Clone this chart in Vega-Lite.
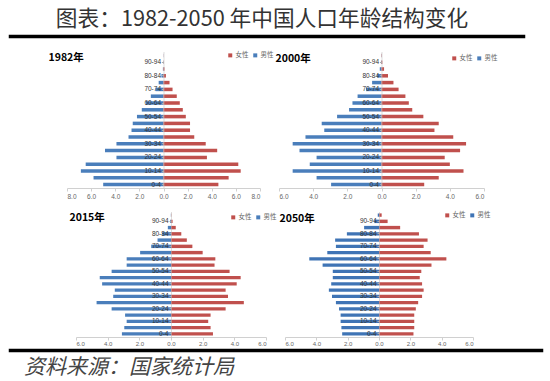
{
"$schema": "https://vega.github.io/schema/vega-lite/v6.json",
"padding": {"left": 8, "top": 8, "right": 0, "bottom": 0},
"background": "white",
"config": {"view": {"stroke": null}, "font": "Noto Sans CJK SC"},
"title": {"text": "图表：1982-2050 年中国人口年龄结构变化", "fontSize": 21.7, "font": "Noto Sans CJK SC", "fontWeight": "normal", "color": "#333", "anchor": "middle", "dx": -14, "offset": -1},
"datasets": {
"pop": [
{"year":1982,"age":"0-4","sex":"男性","v":-5.0},{"year":1982,"age":"0-4","sex":"女性","v":4.55},
{"year":1982,"age":"5-9","sex":"男性","v":-5.8},{"year":1982,"age":"5-9","sex":"女性","v":5.4},
{"year":1982,"age":"10-14","sex":"男性","v":-6.85},{"year":1982,"age":"10-14","sex":"女性","v":6.4},
{"year":1982,"age":"15-19","sex":"男性","v":-6.45},{"year":1982,"age":"15-19","sex":"女性","v":6.2},
{"year":1982,"age":"20-24","sex":"男性","v":-3.9},{"year":1982,"age":"20-24","sex":"女性","v":3.6},
{"year":1982,"age":"25-29","sex":"男性","v":-4.85},{"year":1982,"age":"25-29","sex":"女性","v":4.45},
{"year":1982,"age":"30-34","sex":"男性","v":-3.9},{"year":1982,"age":"30-34","sex":"女性","v":3.5},
{"year":1982,"age":"35-39","sex":"男性","v":-2.9},{"year":1982,"age":"35-39","sex":"女性","v":2.55},
{"year":1982,"age":"40-44","sex":"男性","v":-2.65},{"year":1982,"age":"40-44","sex":"女性","v":2.2},
{"year":1982,"age":"45-49","sex":"男性","v":-2.55},{"year":1982,"age":"45-49","sex":"女性","v":2.2},
{"year":1982,"age":"50-54","sex":"男性","v":-2.2},{"year":1982,"age":"50-54","sex":"女性","v":1.85},
{"year":1982,"age":"55-59","sex":"男性","v":-1.8},{"year":1982,"age":"55-59","sex":"女性","v":1.6},
{"year":1982,"age":"60-64","sex":"男性","v":-1.45},{"year":1982,"age":"60-64","sex":"女性","v":1.35},
{"year":1982,"age":"65-69","sex":"男性","v":-1.05},{"year":1982,"age":"65-69","sex":"女性","v":1.1},
{"year":1982,"age":"70-74","sex":"男性","v":-0.65},{"year":1982,"age":"70-74","sex":"女性","v":0.75},
{"year":1982,"age":"75-79","sex":"男性","v":-0.4},{"year":1982,"age":"75-79","sex":"女性","v":0.5},
{"year":1982,"age":"80-84","sex":"男性","v":-0.17},{"year":1982,"age":"80-84","sex":"女性","v":0.2},
{"year":1982,"age":"85-89","sex":"男性","v":-0.05},{"year":1982,"age":"85-89","sex":"女性","v":0.08},
{"year":1982,"age":"90-94","sex":"男性","v":-0.02},{"year":1982,"age":"90-94","sex":"女性","v":0.02},
{"year":1982,"age":"95+","sex":"男性","v":-0.01},{"year":1982,"age":"95+","sex":"女性","v":0.01},

{"year":2000,"age":"0-4","sex":"男性","v":-2.95},{"year":2000,"age":"0-4","sex":"女性","v":2.5},
{"year":2000,"age":"5-9","sex":"男性","v":-3.8},{"year":2000,"age":"5-9","sex":"女性","v":3.35},
{"year":2000,"age":"10-14","sex":"男性","v":-5.2},{"year":2000,"age":"10-14","sex":"女性","v":4.8},
{"year":2000,"age":"15-19","sex":"男性","v":-4.2},{"year":2000,"age":"15-19","sex":"女性","v":4.0},
{"year":2000,"age":"20-24","sex":"男性","v":-3.8},{"year":2000,"age":"20-24","sex":"女性","v":3.7},
{"year":2000,"age":"25-29","sex":"男性","v":-4.8},{"year":2000,"age":"25-29","sex":"女性","v":4.6},
{"year":2000,"age":"30-34","sex":"男性","v":-5.2},{"year":2000,"age":"30-34","sex":"女性","v":4.95},
{"year":2000,"age":"35-39","sex":"男性","v":-4.45},{"year":2000,"age":"35-39","sex":"女性","v":4.2},
{"year":2000,"age":"40-44","sex":"男性","v":-3.35},{"year":2000,"age":"40-44","sex":"女性","v":3.1},
{"year":2000,"age":"45-49","sex":"男性","v":-3.5},{"year":2000,"age":"45-49","sex":"女性","v":3.35},
{"year":2000,"age":"50-54","sex":"男性","v":-2.6},{"year":2000,"age":"50-54","sex":"女性","v":2.45},
{"year":2000,"age":"55-59","sex":"男性","v":-1.9},{"year":2000,"age":"55-59","sex":"女性","v":1.8},
{"year":2000,"age":"60-64","sex":"男性","v":-1.7},{"year":2000,"age":"60-64","sex":"女性","v":1.6},
{"year":2000,"age":"65-69","sex":"男性","v":-1.4},{"year":2000,"age":"65-69","sex":"女性","v":1.4},
{"year":2000,"age":"70-74","sex":"男性","v":-0.9},{"year":2000,"age":"70-74","sex":"女性","v":1.0},
{"year":2000,"age":"75-79","sex":"男性","v":-0.55},{"year":2000,"age":"75-79","sex":"女性","v":0.7},
{"year":2000,"age":"80-84","sex":"男性","v":-0.25},{"year":2000,"age":"80-84","sex":"女性","v":0.38},
{"year":2000,"age":"85-89","sex":"男性","v":-0.1},{"year":2000,"age":"85-89","sex":"女性","v":0.15},
{"year":2000,"age":"90-94","sex":"男性","v":-0.03},{"year":2000,"age":"90-94","sex":"女性","v":0.05},
{"year":2000,"age":"95+","sex":"男性","v":-0.01},{"year":2000,"age":"95+","sex":"女性","v":0.02},

{"year":2015,"age":"0-4","sex":"男性","v":-3.1},{"year":2015,"age":"0-4","sex":"女性","v":2.65},
{"year":2015,"age":"5-9","sex":"男性","v":-2.95},{"year":2015,"age":"5-9","sex":"女性","v":2.5},
{"year":2015,"age":"10-14","sex":"男性","v":-2.8},{"year":2015,"age":"10-14","sex":"女性","v":2.35},
{"year":2015,"age":"15-19","sex":"男性","v":-2.9},{"year":2015,"age":"15-19","sex":"女性","v":2.5},
{"year":2015,"age":"20-24","sex":"男性","v":-3.75},{"year":2015,"age":"20-24","sex":"女性","v":3.45},
{"year":2015,"age":"25-29","sex":"男性","v":-4.7},{"year":2015,"age":"25-29","sex":"女性","v":4.6},
{"year":2015,"age":"30-34","sex":"男性","v":-3.65},{"year":2015,"age":"30-34","sex":"女性","v":3.6},
{"year":2015,"age":"35-39","sex":"男性","v":-3.55},{"year":2015,"age":"35-39","sex":"女性","v":3.45},
{"year":2015,"age":"40-44","sex":"男性","v":-4.35},{"year":2015,"age":"40-44","sex":"女性","v":4.15},
{"year":2015,"age":"45-49","sex":"男性","v":-4.5},{"year":2015,"age":"45-49","sex":"女性","v":4.4},
{"year":2015,"age":"50-54","sex":"男性","v":-3.75},{"year":2015,"age":"50-54","sex":"女性","v":3.7},
{"year":2015,"age":"55-59","sex":"男性","v":-2.8},{"year":2015,"age":"55-59","sex":"女性","v":2.75},
{"year":2015,"age":"60-64","sex":"男性","v":-2.8},{"year":2015,"age":"60-64","sex":"女性","v":2.8},
{"year":2015,"age":"65-69","sex":"男性","v":-1.95},{"year":2015,"age":"65-69","sex":"女性","v":2.0},
{"year":2015,"age":"70-74","sex":"男性","v":-1.25},{"year":2015,"age":"70-74","sex":"女性","v":1.35},
{"year":2015,"age":"75-79","sex":"男性","v":-0.85},{"year":2015,"age":"75-79","sex":"女性","v":1.0},
{"year":2015,"age":"80-84","sex":"男性","v":-0.55},{"year":2015,"age":"80-84","sex":"女性","v":0.65},
{"year":2015,"age":"85-89","sex":"男性","v":-0.2},{"year":2015,"age":"85-89","sex":"女性","v":0.3},
{"year":2015,"age":"90-94","sex":"男性","v":-0.05},{"year":2015,"age":"90-94","sex":"女性","v":0.1},
{"year":2015,"age":"95+","sex":"男性","v":-0.01},{"year":2015,"age":"95+","sex":"女性","v":0.02},

{"year":2050,"age":"0-4","sex":"男性","v":-2.35},{"year":2050,"age":"0-4","sex":"女性","v":2.2},
{"year":2050,"age":"5-9","sex":"男性","v":-2.4},{"year":2050,"age":"5-9","sex":"女性","v":2.25},
{"year":2050,"age":"10-14","sex":"男性","v":-2.45},{"year":2050,"age":"10-14","sex":"女性","v":2.25},
{"year":2050,"age":"15-19","sex":"男性","v":-2.45},{"year":2050,"age":"15-19","sex":"女性","v":2.25},
{"year":2050,"age":"20-24","sex":"男性","v":-2.55},{"year":2050,"age":"20-24","sex":"女性","v":2.35},
{"year":2050,"age":"25-29","sex":"男性","v":-2.75},{"year":2050,"age":"25-29","sex":"女性","v":2.5},
{"year":2050,"age":"30-34","sex":"男性","v":-3.0},{"year":2050,"age":"30-34","sex":"女性","v":2.75},
{"year":2050,"age":"35-39","sex":"男性","v":-3.2},{"year":2050,"age":"35-39","sex":"女性","v":2.85},
{"year":2050,"age":"40-44","sex":"男性","v":-3.05},{"year":2050,"age":"40-44","sex":"女性","v":2.75},
{"year":2050,"age":"45-49","sex":"男性","v":-2.95},{"year":2050,"age":"45-49","sex":"女性","v":2.6},
{"year":2050,"age":"50-54","sex":"男性","v":-2.95},{"year":2050,"age":"50-54","sex":"女性","v":2.7},
{"year":2050,"age":"55-59","sex":"男性","v":-3.6},{"year":2050,"age":"55-59","sex":"女性","v":3.35},
{"year":2050,"age":"60-64","sex":"男性","v":-4.45},{"year":2050,"age":"60-64","sex":"女性","v":4.3},
{"year":2050,"age":"65-69","sex":"男性","v":-3.3},{"year":2050,"age":"65-69","sex":"女性","v":3.3},
{"year":2050,"age":"70-74","sex":"男性","v":-2.75},{"year":2050,"age":"70-74","sex":"女性","v":2.85},
{"year":2050,"age":"75-79","sex":"男性","v":-2.8},{"year":2050,"age":"75-79","sex":"女性","v":3.1},
{"year":2050,"age":"80-84","sex":"男性","v":-2.05},{"year":2050,"age":"80-84","sex":"女性","v":2.55},
{"year":2050,"age":"85-89","sex":"男性","v":-0.95},{"year":2050,"age":"85-89","sex":"女性","v":1.35},
{"year":2050,"age":"90-94","sex":"男性","v":-0.3},{"year":2050,"age":"90-94","sex":"女性","v":0.55},
{"year":2050,"age":"95+","sex":"男性","v":-0.08},{"year":2050,"age":"95+","sex":"女性","v":0.17}
],
"blank": [{"t": ""}]
},
"spacing": 12,
"resolve": {"scale": {"color": "independent"}, "legend": {"color": "independent"}},
"vconcat": [
{"spacing": 9, "resolve": {"scale": {"color": "independent"}, "legend": {"color": "independent"}}, "vconcat": [
  {"width": 514, "height": 1, "data": {"name": "blank"}, "mark": "text", "encoding": {"text": {"field": "t"}}, "view": {"stroke": "#000", "strokeWidth": 2.5, "fill": "#000"}},
  {"bounds": "flush", "spacing": 19, "resolve": {"scale": {"color": "independent"}, "legend": {"color": "independent"}}, "hconcat": [
    {"width": 38, "height": 136, "data": {"name": "blank"}, "mark": "text", "encoding": {"text": {"field": "t"}}},
    {"width": 193, "height": 136, "data": {"name": "pop"}, "transform": [{"filter": "datum.year == 1982"}],
     "title": {"text": "1982年", "anchor": "start", "dx": -18, "offset": -11, "fontSize": 10.5, "fontWeight": "bold", "color": "#000"},
     "mark": {"type": "bar", "orient": "horizontal"},
     "encoding": {
       "y": {"field": "age", "type": "ordinal", "sort": ["95+","90-94","85-89","80-84","75-79","70-74","65-69","60-64","55-59","50-54","45-49","40-44","35-39","30-34","25-29","20-24","15-19","10-14","5-9","0-4"], "scale": {"paddingInner": 0.48, "paddingOuter": 0.24},
             "axis": {"title": null, "offset": -96.5, "values": ["0-4","10-14","20-24","30-34","40-44","50-54","60-64","70-74","80-84","90-94"], "labelFontSize": 6.5, "labelColor": "#333", "labelPadding": 1, "tickSize": 2, "tickColor": "#aaa", "domainColor": "#bbb", "domainDash": [1, 1], "zindex": 1, "labelFont": "Liberation Sans"}},
       "x": {"field": "v", "type": "quantitative", "scale": {"domain": [-8, 8]},
             "axis": {"title": null, "values": [-8,-6,-4,-2,0,2,4,6,8], "labelExpr": "format(abs(datum.value), '.1f')", "labelFontSize": 6.5, "labelColor": "#666", "domainColor": "#d0d0d0", "tickColor": "#d0d0d0", "tickSize": 3, "grid": false, "labelPadding": 2, "labelFont": "Liberation Sans"}},
       "color": {"field": "sex", "type": "nominal", "scale": {"domain": ["女性","男性"], "range": ["#c0504d","#4a7ebb"]},
             "legend": {"title": null, "orient": "none", "legendX": 160, "legendY": 0, "direction": "horizontal", "symbolType": "square", "symbolSize": 16, "labelFontSize": 6.5, "labelColor": "#666", "columnPadding": 3, "labelOffset": 2, "symbolStrokeWidth": 0}}
     }},
    {"width": 205, "height": 136, "data": {"name": "pop"}, "transform": [{"filter": "datum.year == 2000"}],
     "title": {"text": "2000年", "anchor": "start", "dx": -3, "offset": -12, "fontSize": 10.5, "fontWeight": "bold", "color": "#000"},
     "mark": {"type": "bar", "orient": "horizontal"},
     "encoding": {
       "y": {"field": "age", "type": "ordinal", "sort": ["95+","90-94","85-89","80-84","75-79","70-74","65-69","60-64","55-59","50-54","45-49","40-44","35-39","30-34","25-29","20-24","15-19","10-14","5-9","0-4"], "scale": {"paddingInner": 0.48, "paddingOuter": 0.24},
             "axis": {"title": null, "offset": -102.5, "values": ["0-4","10-14","20-24","30-34","40-44","50-54","60-64","70-74","80-84","90-94"], "labelFontSize": 6.5, "labelColor": "#333", "labelPadding": 1, "tickSize": 2, "tickColor": "#aaa", "domainColor": "#bbb", "domainDash": [1, 1], "zindex": 1, "labelFont": "Liberation Sans"}},
       "x": {"field": "v", "type": "quantitative", "scale": {"domain": [-6, 6]},
             "axis": {"title": null, "values": [-6,-4,-2,0,2,4,6], "labelExpr": "format(abs(datum.value), '.1f')", "labelFontSize": 6.5, "labelColor": "#666", "domainColor": "#d0d0d0", "tickColor": "#d0d0d0", "tickSize": 3, "grid": false, "labelPadding": 2, "labelFont": "Liberation Sans"}},
       "color": {"field": "sex", "type": "nominal", "scale": {"domain": ["女性","男性"], "range": ["#c0504d","#4a7ebb"]},
             "legend": {"title": null, "orient": "none", "legendX": 172, "legendY": 3, "direction": "horizontal", "symbolType": "square", "symbolSize": 16, "labelFontSize": 6.5, "labelColor": "#666", "columnPadding": 3, "labelOffset": 2, "symbolStrokeWidth": 0}}
     }}
  ]}
]},
{"spacing": -3, "resolve": {"scale": {"color": "independent"}, "legend": {"color": "independent"}}, "vconcat": [
  {"bounds": "flush", "spacing": 19, "resolve": {"scale": {"color": "independent"}, "legend": {"color": "independent"}}, "hconcat": [
    {"width": 47, "height": 125, "data": {"name": "blank"}, "mark": "text", "encoding": {"text": {"field": "t"}}},
    {"width": 190, "height": 125, "data": {"name": "pop"}, "transform": [{"filter": "datum.year == 2015"}],
     "title": {"text": "2015年", "anchor": "start", "dx": -6, "offset": -11, "fontSize": 10.5, "fontWeight": "bold", "color": "#000"},
     "mark": {"type": "bar", "orient": "horizontal"},
     "encoding": {
       "y": {"field": "age", "type": "ordinal", "sort": ["95+","90-94","85-89","80-84","75-79","70-74","65-69","60-64","55-59","50-54","45-49","40-44","35-39","30-34","25-29","20-24","15-19","10-14","5-9","0-4"], "scale": {"paddingInner": 0.45, "paddingOuter": 0.22},
             "axis": {"title": null, "offset": -95, "values": ["0-4","10-14","20-24","30-34","40-44","50-54","60-64","70-74","80-84","90-94"], "labelFontSize": 6.5, "labelColor": "#333", "labelPadding": 1, "tickSize": 2, "tickColor": "#aaa", "domainColor": "#bbb", "domainDash": [1, 1], "zindex": 1, "labelFont": "Liberation Sans"}},
       "x": {"field": "v", "type": "quantitative", "scale": {"domain": [-6, 6]},
             "axis": {"title": null, "values": [-6,-4,-2,0,2,4,6], "labelExpr": "format(abs(datum.value), '.1f')", "labelFontSize": 6, "labelColor": "#666", "domainColor": "#d0d0d0", "tickColor": "#d0d0d0", "tickSize": 3, "grid": false, "labelPadding": 0, "labelFont": "Liberation Sans"}},
       "color": {"field": "sex", "type": "nominal", "scale": {"domain": ["女性","男性"], "range": ["#c0504d","#4a7ebb"]},
             "legend": {"title": null, "orient": "none", "legendX": 154, "legendY": 2, "direction": "horizontal", "symbolType": "square", "symbolSize": 16, "labelFontSize": 6.5, "labelColor": "#666", "columnPadding": 3, "labelOffset": 2, "symbolStrokeWidth": 0}}
     }},
    {"width": 188, "height": 125, "data": {"name": "pop"}, "transform": [{"filter": "datum.year == 2050"}],
     "title": {"text": "2050年", "anchor": "start", "dx": -5, "offset": -12, "fontSize": 10.5, "fontWeight": "bold", "color": "#000"},
     "mark": {"type": "bar", "orient": "horizontal"},
     "encoding": {
       "y": {"field": "age", "type": "ordinal", "sort": ["95+","90-94","85-89","80-84","75-79","70-74","65-69","60-64","55-59","50-54","45-49","40-44","35-39","30-34","25-29","20-24","15-19","10-14","5-9","0-4"], "scale": {"paddingInner": 0.45, "paddingOuter": 0.22},
             "axis": {"title": null, "offset": -94, "values": ["0-4","10-14","20-24","30-34","40-44","50-54","60-64","70-74","80-84","90-94"], "labelFontSize": 6.5, "labelColor": "#333", "labelPadding": 1, "tickSize": 2, "tickColor": "#aaa", "domainColor": "#bbb", "domainDash": [1, 1], "zindex": 1, "labelFont": "Liberation Sans"}},
       "x": {"field": "v", "type": "quantitative", "scale": {"domain": [-6, 6]},
             "axis": {"title": null, "values": [-6,-4,-2,0,2,4,6], "labelExpr": "format(abs(datum.value), '.1f')", "labelFontSize": 6, "labelColor": "#666", "domainColor": "#d0d0d0", "tickColor": "#d0d0d0", "tickSize": 3, "grid": false, "labelPadding": 0, "labelFont": "Liberation Sans"}},
       "color": {"field": "sex", "type": "nominal", "scale": {"domain": ["女性","男性"], "range": ["#c0504d","#3f74b5"]},
             "legend": {"title": null, "orient": "none", "legendX": 159, "legendY": 0, "direction": "horizontal", "symbolType": "square", "symbolSize": 16, "labelFontSize": 6.5, "labelColor": "#666", "columnPadding": 3, "labelOffset": 2, "symbolStrokeWidth": 0}}
     }}
  ]},
  {"width": 532, "height": 1, "data": {"name": "blank"}, "mark": "text", "encoding": {"text": {"field": "t"}}, "view": {"stroke": "#000", "strokeWidth": 2.5, "fill": "#000"},
   "title": {"text": "资料来源：国家统计局", "orient": "bottom", "anchor": "start", "dx": 14, "offset": 1, "fontSize": 21, "fontStyle": "italic", "fontWeight": "normal", "color": "#444", "font": "Noto Sans CJK SC"}}
]}
]
}
